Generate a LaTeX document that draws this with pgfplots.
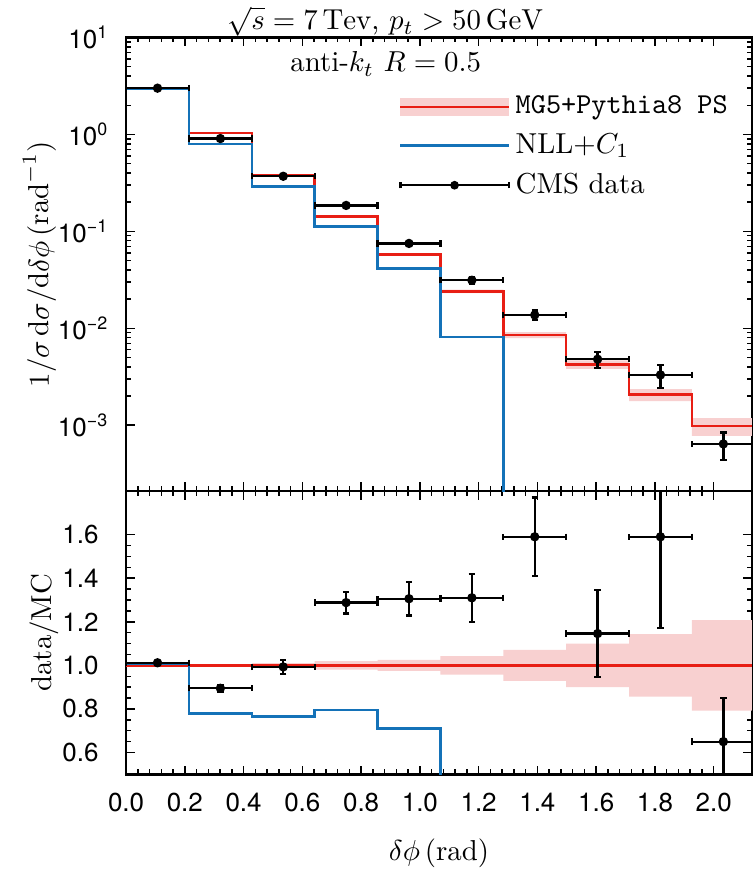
\documentclass[border=0pt]{standalone}
\usepackage{fontspec}
\usepackage{pgfplots}
\pgfplotsset{compat=1.18}
\usepgfplotslibrary{fillbetween}
\newfontfamily\tickfont{TeX Gyre Heros}
\definecolor{mcred}{RGB}{232,30,20}
\definecolor{bandpink}{RGB}{248,208,208}
\definecolor{nllblue}{RGB}{20,114,184}
\newcommand{\expo}[1]{10\raisebox{3.6pt}{\fontsize{6.2}{6.2}\selectfont #1}}

\pgfplotstableread{
x mc lo hi
0     2.97    2.955    2.985
0.214 1.03    1.0249   1.0352
0.428 0.376   0.3722   0.3798
0.642 0.142   0.1392   0.1448
0.856 0.0576  0.05616  0.05904
1.070 0.024   0.02299  0.02501
1.284 0.00853 0.007924 0.009136
1.498 0.00423 0.003807 0.004653
1.712 0.00206 0.001765 0.002355
1.926 0.00098 0.000776 0.001184
2.140 0.00098 0.000776 0.001184
}\mctop

\pgfplotstableread{
x y
0     2.95
0.214 0.80
0.428 0.291
0.642 0.112
0.856 0.0414
1.070 0.0081
1.284 1e-7
1.500 1e-7
}\nlltop

\pgfplotstableread{
x ex y ey
0.107 0.107 3.0     0.03
0.321 0.107 0.906   0.015
0.535 0.107 0.37    0.012
0.749 0.107 0.185   0.0072
0.963 0.107 0.075   0.0044
1.177 0.107 0.0313  0.0026
1.391 0.107 0.0137  0.00155
1.605 0.107 0.00479 0.00088
1.819 0.107 0.0033  0.00087
2.033 0.107 0.00064 0.0002
}\datatop

\pgfplotstableread{
x mc lo hi
0     1 0.995 1.005
0.214 1 0.995 1.005
0.428 1 0.990 1.010
0.642 1 0.980 1.020
0.856 1 0.975 1.025
1.070 1 0.958 1.042
1.284 1 0.929 1.071
1.498 1 0.900 1.100
1.712 1 0.857 1.143
1.926 1 0.792 1.208
2.140 1 0.792 1.208
}\mcrat

\pgfplotstableread{
x y
0     1.010
0.214 0.780
0.428 0.765
0.642 0.795
0.856 0.710
1.070 0.0
1.300 0.0
}\nllrat

\pgfplotstableread{
x ex y ey
0.107 0.107 1.012 0.008
0.321 0.107 0.895 0.015
0.535 0.107 0.993 0.032
0.749 0.107 1.288 0.05
0.963 0.107 1.306 0.077
1.177 0.107 1.31  0.11
1.391 0.107 1.59  0.18
1.605 0.107 1.146 0.2
1.819 0.107 1.59  0.42
2.033 0.107 0.65  0.2
}\datarat

\pgfplotsset{
  panel/.style={
    scale only axis,
    width=216.9pt,
    xmin=0, xmax=2.13,
    axis line style={line width=0.85pt},
    every tick/.style={black, line width=0.5pt},
    tick align=inside,
    major tick length=3.0pt,
    minor tick length=1.7pt,
    xtick={0,0.2,...,2.01},
    minor x tick num=4,
    tick label style={font=\tickfont\fontsize{9}{10}\selectfont},
    xticklabel style={yshift=-3pt},
    label style={font=\fontsize{10}{12}\selectfont},
  },
  databar/.style={
    black, line width=0.8pt, mark=*, mark size=1.2pt, only marks,
    error bars/.cd, x dir=both, x explicit, y dir=both, y explicit,
    error bar style={line width=0.8pt, black},
    error mark options={rotate=90, mark size=1.1pt, line width=0.8pt, black},
  },
}

\begin{document}
\begin{tikzpicture}
\begin{axis}[panel, name=top,
  height=157.2pt,
  ymode=log, ymin=2.09e-4, ymax=10,
  xticklabels={},
  ytick={1e-3,1e-2,1e-1,1,10},
  yticklabels={{\expo{−3}},{\expo{−2}},{\expo{−1}},{\expo{0}},{\expo{1}}},
  yticklabel style={xshift=-3pt},
  ylabel={$1/\sigma\,\mathrm{d}\sigma/\mathrm{d}\delta\phi\,(\mathrm{rad}^{-1})$},
  ylabel style={at={(axis description cs:-0.1385,0.5)}, anchor=center},
  legend style={at={(0.4355,0.885)}, anchor=north west, draw=none, fill=none,
    font=\fontsize{10}{12}\selectfont, row sep=1.3pt, inner sep=0pt},
  legend cell align=left,
]
\addplot[name path=tophi, draw=none, const plot mark left, forget plot] table[x=x,y=hi] {\mctop};
\addplot[name path=toplo, draw=none, const plot mark left, forget plot] table[x=x,y=lo] {\mctop};
\addplot[bandpink, forget plot] fill between[of=tophi and toplo];
\addplot[mcred, line width=0.9pt, const plot mark left, forget plot] table[x=x,y=mc] {\mctop};
\addplot[nllblue, line width=0.9pt, const plot mark left, forget plot] table[x=x,y=y] {\nlltop};
\addplot[forget plot, databar] table[x=x,y=y,x error=ex,y error=ey] {\datatop};
\node[anchor=base, font=\fontsize{10}{12}\selectfont] at (rel axis cs:0.415,0.924) {anti-$k_t$ $R=0.5$};
\addlegendimage{legend image code/.code={\fill[bandpink] (0pt,-2.85pt) rectangle (37.5pt,2.85pt); \draw[mcred,line width=0.9pt] (0pt,0pt) -- (37.5pt,0pt);}}
\addlegendentry{\texttt{MG5+Pythia8 PS}}
\addlegendimage{legend image code/.code={\draw[nllblue,line width=0.9pt] (0pt,0pt) -- (37.5pt,0pt);}}
\addlegendentry{NLL$+C_1$}
\addlegendimage{legend image code/.code={\draw[black,line width=0.8pt] (0pt,0pt) -- (37.5pt,0pt); \draw[black,line width=0.8pt] (0pt,-1.1pt)--(0pt,1.1pt) (37.5pt,-1.1pt)--(37.5pt,1.1pt); \fill[black] (18.75pt,0pt) circle (1.3pt);}}
\addlegendentry{CMS data}
\coordinate (tl) at (rel axis cs:0,1);
\end{axis}
\node[anchor=base, font=\fontsize{10}{12}\selectfont, inner sep=0pt] at ([xshift=89.8pt, yshift=2.7pt]tl) {$\sqrt{s}=7\,\mathrm{Tev}$, $p_t>50\,\mathrm{GeV}$};

\begin{axis}[panel, name=bot,
  at={(top.south west)}, anchor=north west,
  height=98.2pt,
  ymin=0.5, ymax=1.8,
  ytick={0.6,0.8,1.0,1.2,1.4,1.6},
  yticklabels={0.6,0.8,1.0,1.2,1.4,1.6},
  yticklabel style={xshift=-6pt},
  minor y tick num=3,
  xticklabels={0.0,0.2,0.4,0.6,0.8,1.0,1.2,1.4,1.6,1.8,2.0},
  ylabel={data/MC},
  ylabel style={at={(axis description cs:-0.1305,0.5)}, anchor=center},
]
\addplot[name path=rathi, draw=none, const plot mark left] table[x=x,y=hi] {\mcrat};
\addplot[name path=ratlo, draw=none, const plot mark left] table[x=x,y=lo] {\mcrat};
\addplot[bandpink] fill between[of=rathi and ratlo];
\addplot[mcred, line width=0.9pt, const plot mark left] table[x=x,y=mc] {\mcrat};
\addplot[nllblue, line width=0.9pt, const plot mark left] table[x=x,y=y] {\nllrat};
\addplot[databar] table[x=x,y=y,x error=ex,y error=ey] {\datarat};
\coordinate (xlab) at (rel axis cs:0.5,0);
\coordinate (br) at (rel axis cs:1,0);
\end{axis}
\node[anchor=base, font=\fontsize{10}{12}\selectfont, inner sep=0pt] at ([yshift=-30pt]xlab) {$\delta\phi\,(\mathrm{rad})$};
\pgfresetboundingbox
\path ([xshift=-43.7pt, yshift=13pt]tl) rectangle ([xshift=0.5pt, yshift=-33.5pt]br);
\end{tikzpicture}
\end{document}
